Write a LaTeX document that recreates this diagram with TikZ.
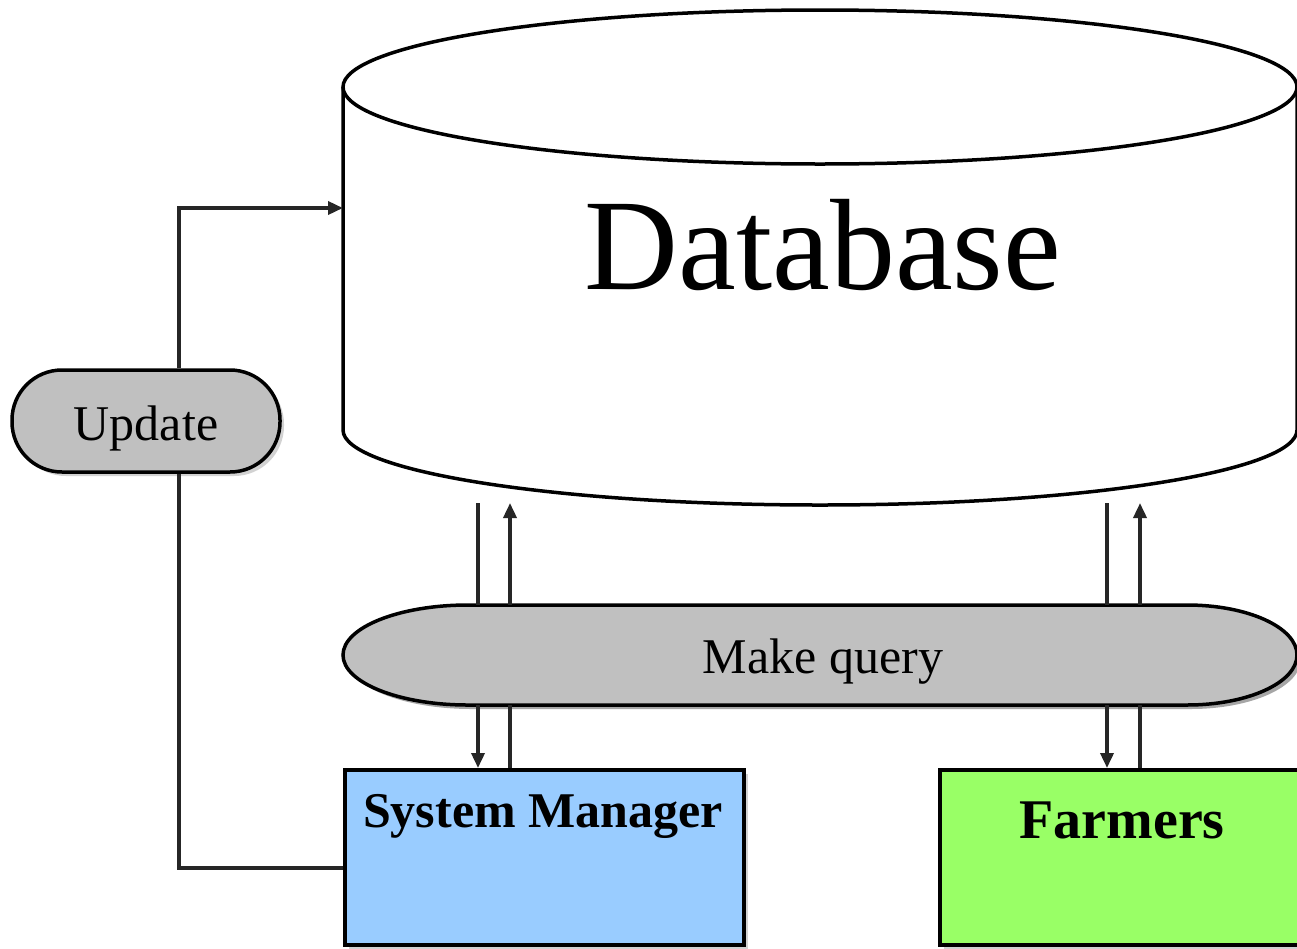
\documentclass[tikz,border=0pt]{standalone}
\usepackage{fontspec}
\setmainfont{Liberation Serif}
\usetikzlibrary{arrows.meta,shadows}
\definecolor{smblue}{HTML}{99CCFF}
\definecolor{fmgreen}{HTML}{99FF66}
\definecolor{qgray}{HTML}{C0C0C0}
\begin{document}
\begin{tikzpicture}[x=1pt,y=1pt,
  outline/.style={draw=black,line width=3.5pt},
  conn/.style={draw=black!85,line width=3.5pt},
  tip/.style={-{Triangle[length=15pt,width=13pt]}},
  boxshape/.style={outline,inner sep=0pt,anchor=north west,
     drop shadow={shadow xshift=4pt,shadow yshift=-4pt,fill=gray!70}},
  bigtext/.style={font=\fontsize{130}{150}\selectfont},
  midtext/.style={font=\fontsize{50}{60}\selectfont},
  boldtext/.style={font=\bfseries\fontsize{50}{60}\selectfont}
]
\useasboundingbox (0,0) rectangle (1297,-948);
\fill[white] (0,0) rectangle (1297,-948);

% x positions of connectors
\coordinate (xa) at (478,0);
\coordinate (xb) at (510,0);
\coordinate (xc) at (1107,0);
\coordinate (xd) at (1140,0);
\coordinate (xu) at (179,0);

% database cylinder
\path[fill=white,outline] (343,-87) -- (343,-430)
   arc[start angle=180,end angle=360,x radius=477,y radius=75] -- (1297,-87);
\draw[outline,fill=white] (820,-87) ellipse [x radius=477,y radius=77];
\node[bigtext] (db) at (823,-245) {Database};
\coordinate (dbbot) at (820,-503);
\coordinate (dbin) at (343,-208);

% make query shape
\fill[gray!70] (472,-609) -- (1191,-609)
   arc[start angle=90,end angle=-90,x radius=110,y radius=50] -- (472,-709)
   arc[start angle=270,end angle=90,x radius=125,y radius=50] -- cycle;
\path[fill=qgray,outline] (468,-605) -- (1187,-605)
   arc[start angle=90,end angle=-90,x radius=110,y radius=50] -- (468,-705)
   arc[start angle=270,end angle=90,x radius=125,y radius=50] -- cycle;
\node[minimum width=954,minimum height=100,inner sep=0pt] (mq) at (820,-655) {};
\node[midtext] (mqt) at (823,-662) {Make query};

% update
\node[outline,fill=qgray,rounded corners=50pt,minimum width=268,minimum height=102,
      inner sep=0pt,
      drop shadow={shadow xshift=4pt,shadow yshift=-4pt,fill=gray!70}] (upd) at (146,-421) {};
\node[midtext] (updt) at (146,-428) {Update};

% boxes
\node[boxshape,fill=smblue,minimum width=399,minimum height=175] (sm) at (343,-768) {};
\node[boxshape,fill=fmgreen,minimum width=380,minimum height=175] (fm) at (938,-768) {};
\node[boldtext] (smt) at (543,-816) {System Manager};
\node[boldtext,font=\bfseries\fontsize{56}{66}\selectfont] (fmt) at (1122,-820) {Farmers};
\coordinate (smin) at (343,-868);

% connectors
\draw[conn] (dbbot -| xa) -- (mq.north -| xa);
\draw[conn,tip] (mq.north -| xb) -- (dbbot -| xb);
\draw[conn,tip] (mq.south -| xa) -- (sm.north -| xa);
\draw[conn] (sm.north -| xb) -- (mq.south -| xb);
\draw[conn] (dbbot -| xc) -- (mq.north -| xc);
\draw[conn,tip] (mq.north -| xd) -- (dbbot -| xd);
\draw[conn,tip] (mq.south -| xc) -- (fm.north -| xc);
\draw[conn] (fm.north -| xd) -- (mq.south -| xd);
\draw[conn,tip] (upd.north -| xu) |- (dbin);
\draw[conn] (upd.south -| xu) |- (smin);
\end{tikzpicture}
\end{document}
